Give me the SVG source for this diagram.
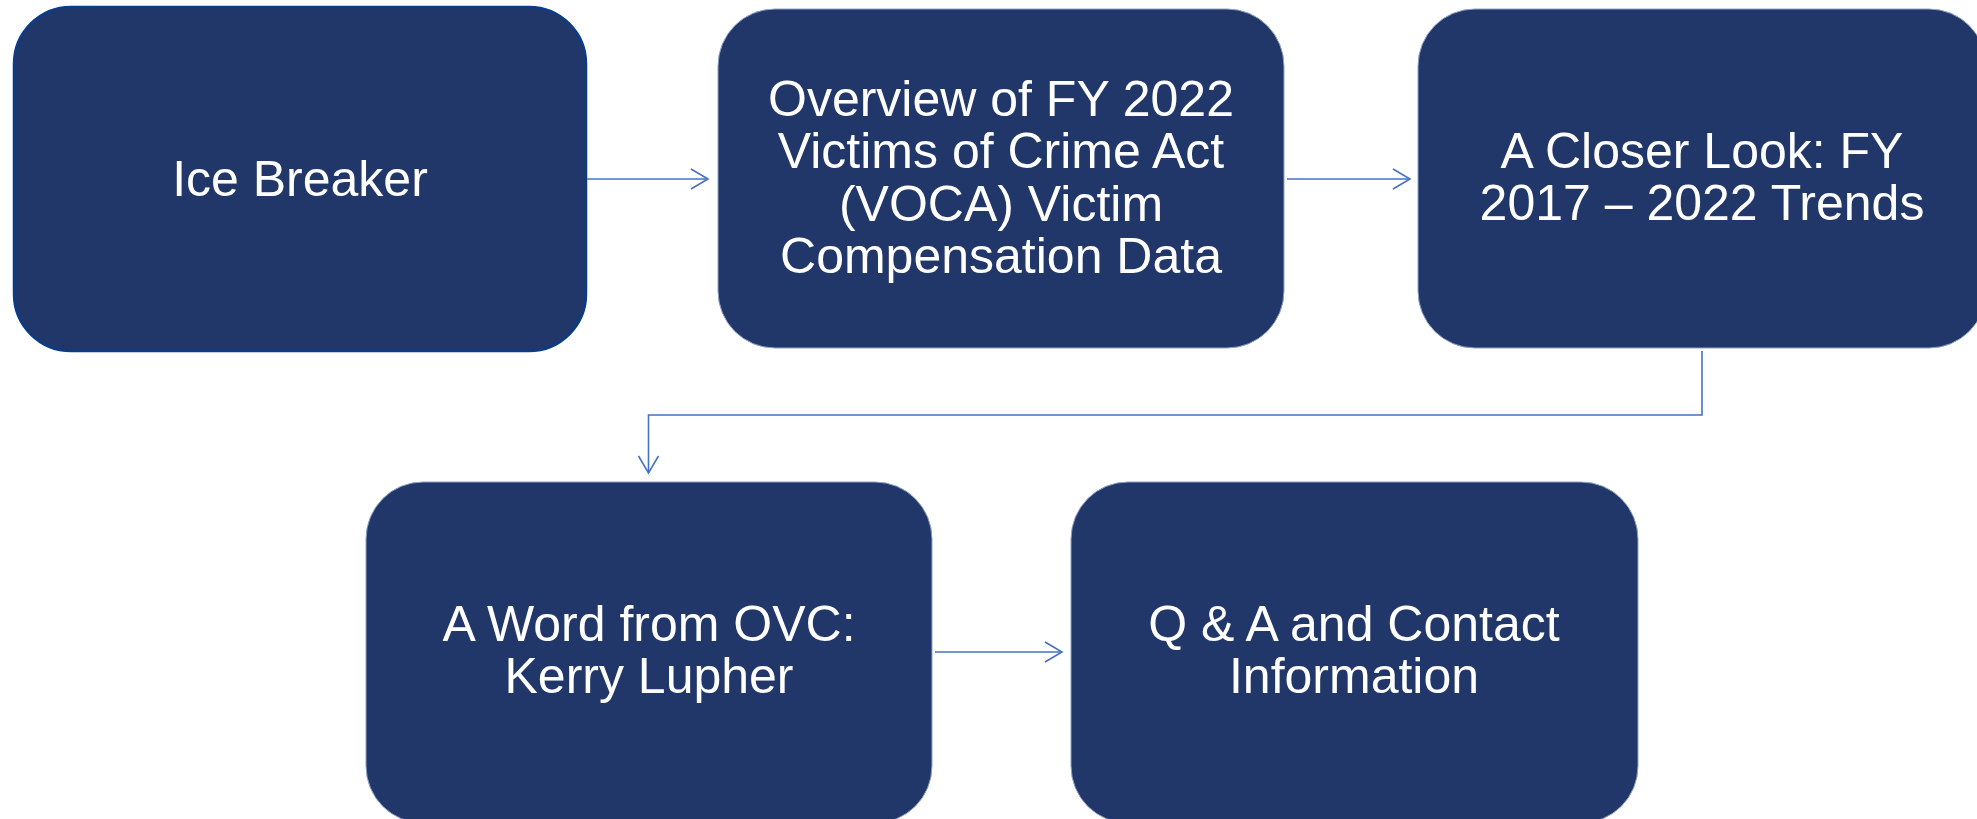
<svg xmlns="http://www.w3.org/2000/svg" width="1977" height="819" viewBox="0 0 1977 819">
  <style>
    .box { fill: #213769; stroke: #8FA3C8; stroke-width: 1; }
    .box1 { fill: #213769; stroke: #0B3C87; stroke-width: 2.5; }
    .lbl { font-family: "Liberation Sans", Arial, sans-serif; font-size: 50px; fill: #FFFFFF; text-anchor: middle; }
    .conn { fill: none; stroke: #4472C4; stroke-width: 1.6; }
  </style>
  <defs>
    <marker id="arr" markerUnits="userSpaceOnUse" markerWidth="24" markerHeight="26" viewBox="-20 -12 24 24" refX="0" refY="0" orient="auto">
      <path d="M -17 -10 L 0 0 L -17 10" fill="none" stroke="#4472C4" stroke-width="1.6"/>
    </marker>
  </defs>
  <rect width="1977" height="819" fill="#FFFFFF"/>

  <g id="node-ice-breaker">
    <rect class="box1" x="14" y="7" width="572" height="344" rx="57" ry="57"/>
    <text class="lbl" x="300" y="196">Ice Breaker</text>
  </g>

  <g id="node-overview">
    <rect class="box" x="718" y="9" width="566" height="339" rx="57" ry="57"/>
    <text class="lbl" x="1001" y="116">Overview of FY 2022</text>
    <text class="lbl" x="1001" y="168.3">Victims of Crime Act</text>
    <text class="lbl" x="1001" y="220.6">(VOCA) Victim</text>
    <text class="lbl" x="1001" y="273">Compensation Data</text>
  </g>

  <g id="node-closer-look">
    <rect class="box" x="1418" y="9" width="568" height="339" rx="57" ry="57"/>
    <text class="lbl" x="1702" y="167.5">A Closer Look: FY</text>
    <text class="lbl" x="1702" y="219.5">2017 – 2022 Trends</text>
  </g>

  <g id="node-word-ovc">
    <rect class="box" x="366" y="482" width="566" height="341" rx="57" ry="57"/>
    <text class="lbl" x="649" y="641">A Word from OVC:</text>
    <text class="lbl" x="649" y="693">Kerry Lupher</text>
  </g>

  <g id="node-qa">
    <rect class="box" x="1071" y="482" width="567" height="341" rx="57" ry="57"/>
    <text class="lbl" x="1354" y="641">Q &amp; A and Contact</text>
    <text class="lbl" x="1354" y="693">Information</text>
  </g>

  <g id="connectors">
    <path class="conn" d="M 587 179 L 708 179" marker-end="url(#arr)"/>
    <path class="conn" d="M 1287 179 L 1410 179" marker-end="url(#arr)"/>
    <path class="conn" d="M 1702 351 L 1702 415 L 648.5 415 L 648.5 473" marker-end="url(#arr)"/>
    <path class="conn" d="M 935 652 L 1062 652" marker-end="url(#arr)"/>
  </g>
</svg>
